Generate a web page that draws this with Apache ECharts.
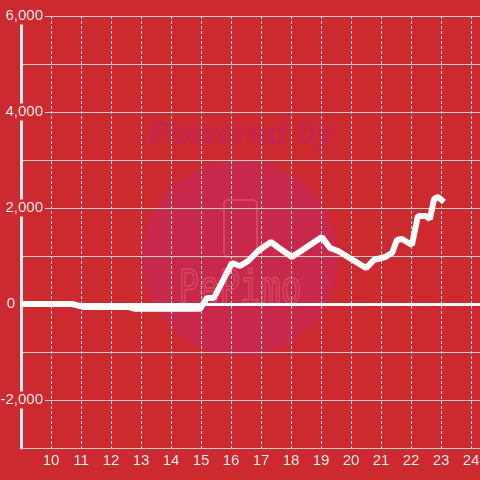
<!DOCTYPE html>
<html><head><meta charset="utf-8">
<script src="https://cdn.jsdelivr.net/npm/echarts@6/dist/echarts.min.js"></script>
<style>html,body{margin:0;padding:0;background:#cd2a2f}#c{width:480px;height:480px}</style>
</head><body><div id="c"></div>
<script>
const xValues = [9.0, 10.7, 11.07, 12.57, 12.8, 14.97, 15.2, 15.43, 16.03, 16.3, 16.57, 16.9, 17.33, 17.6, 18.03, 19.03, 19.3, 19.57, 20.5, 20.77, 21.13, 21.37, 21.53, 21.7, 22.03, 22.23, 22.5, 22.63, 22.77, 22.9, 23.1];
const yValues = [0, 0, -60, -60, -100, -100, 125, 125, 854, 792, 896, 1104, 1292, 1167, 979, 1396, 1167, 1104, 750, 917, 979, 1063, 1333, 1354, 1229, 1833, 1833, 1771, 2188, 2229, 2125];
const xTickLabels = [10, 11, 12, 13, 14, 15, 16, 17, 18, 19, 20, 21, 22, 23, 24];
const yTickLabels = [-2000, 0, 2000, 4000, 6000];

const BG = '#cd2a2f';
const chart = echarts.init(document.getElementById('c'));
chart.setOption({
  animation: false,
  backgroundColor: BG,
  grid: { left: 21, right: 0, top: 16, bottom: 32, outerBoundsMode: 'none', containLabel: false },
  graphic: [
    { type: 'circle', z: -1, shape: { cx: 240, cy: 258, r: 98 }, style: { fill: '#c8284a' } },
    { type: 'text', z: -1, x: 242, y: 135, style: { text: 'Powered by', font: 'italic bold 33px "Liberation Sans"', fill: '#c6254b', align: 'center', verticalAlign: 'middle' } },
    { type: 'rect', z: -1, shape: { x: 224, y: 200, width: 33, height: 57, r: 4 }, style: { fill: null, stroke: '#d5475f', lineWidth: 2 } },
    { type: 'text', z: -1, x: 240, y: 291, scaleY: 1.35, style: { text: 'PePimo', font: '34px "DejaVu Sans Mono"', fill: null, stroke: '#d5475f', lineWidth: 1.5, align: 'center', verticalAlign: 'middle' } }
  ],
  xAxis: {
    type: 'value', min: 9, max: 24.3, interval: 1,
    axisLine: { show: true, onZero: false, lineStyle: { color: '#cccccc', width: 1 } },
    axisTick: { show: false },
    axisLabel: {
      color: '#eeeeee', fontSize: 15, fontFamily: 'Liberation Sans', margin: 5,
      formatter: v => xTickLabels.includes(v) ? String(v) : ''
    },
    splitLine: { show: true, lineStyle: { color: '#dddddd', width: 1, type: [3, 2] } }
  },
  yAxis: {
    type: 'value', min: -3000, max: 6000, interval: 1000,
    axisLine: { show: true, onZero: false, lineStyle: { color: '#f2f2f2', width: 3 } },
    axisTick: { show: false },
    axisLabel: {
      margin: -24,
      formatter: v => !yTickLabels.includes(v) ? '' : (v === 0 ? '{z|0}' : '{b|' + v.toLocaleString('en-US') + '}'),
      rich: {
        b: { color: '#eeeeee', fontSize: 15, fontFamily: 'Liberation Sans', backgroundColor: BG, padding: [1, 2, 1, 2] },
        z: { color: '#eeeeee', fontSize: 15, fontFamily: 'Liberation Sans', padding: [1, 30, 1, 2] }
      }
    },
    splitLine: { show: true, lineStyle: { color: '#cccccc', width: 1 } }
  },
  series: [{
    type: 'line',
    data: xValues.map((x, i) => [x, yValues[i]]),
    showSymbol: false,
    lineStyle: { color: '#ffffff', width: 6 },
    markLine: {
      silent: true, symbol: ['none', 'none'], label: { show: false },
      lineStyle: { color: '#ffffff', width: 3, type: 'solid' },
      data: [{ yAxis: 0 }]
    }
  }]
});
</script></body></html>
